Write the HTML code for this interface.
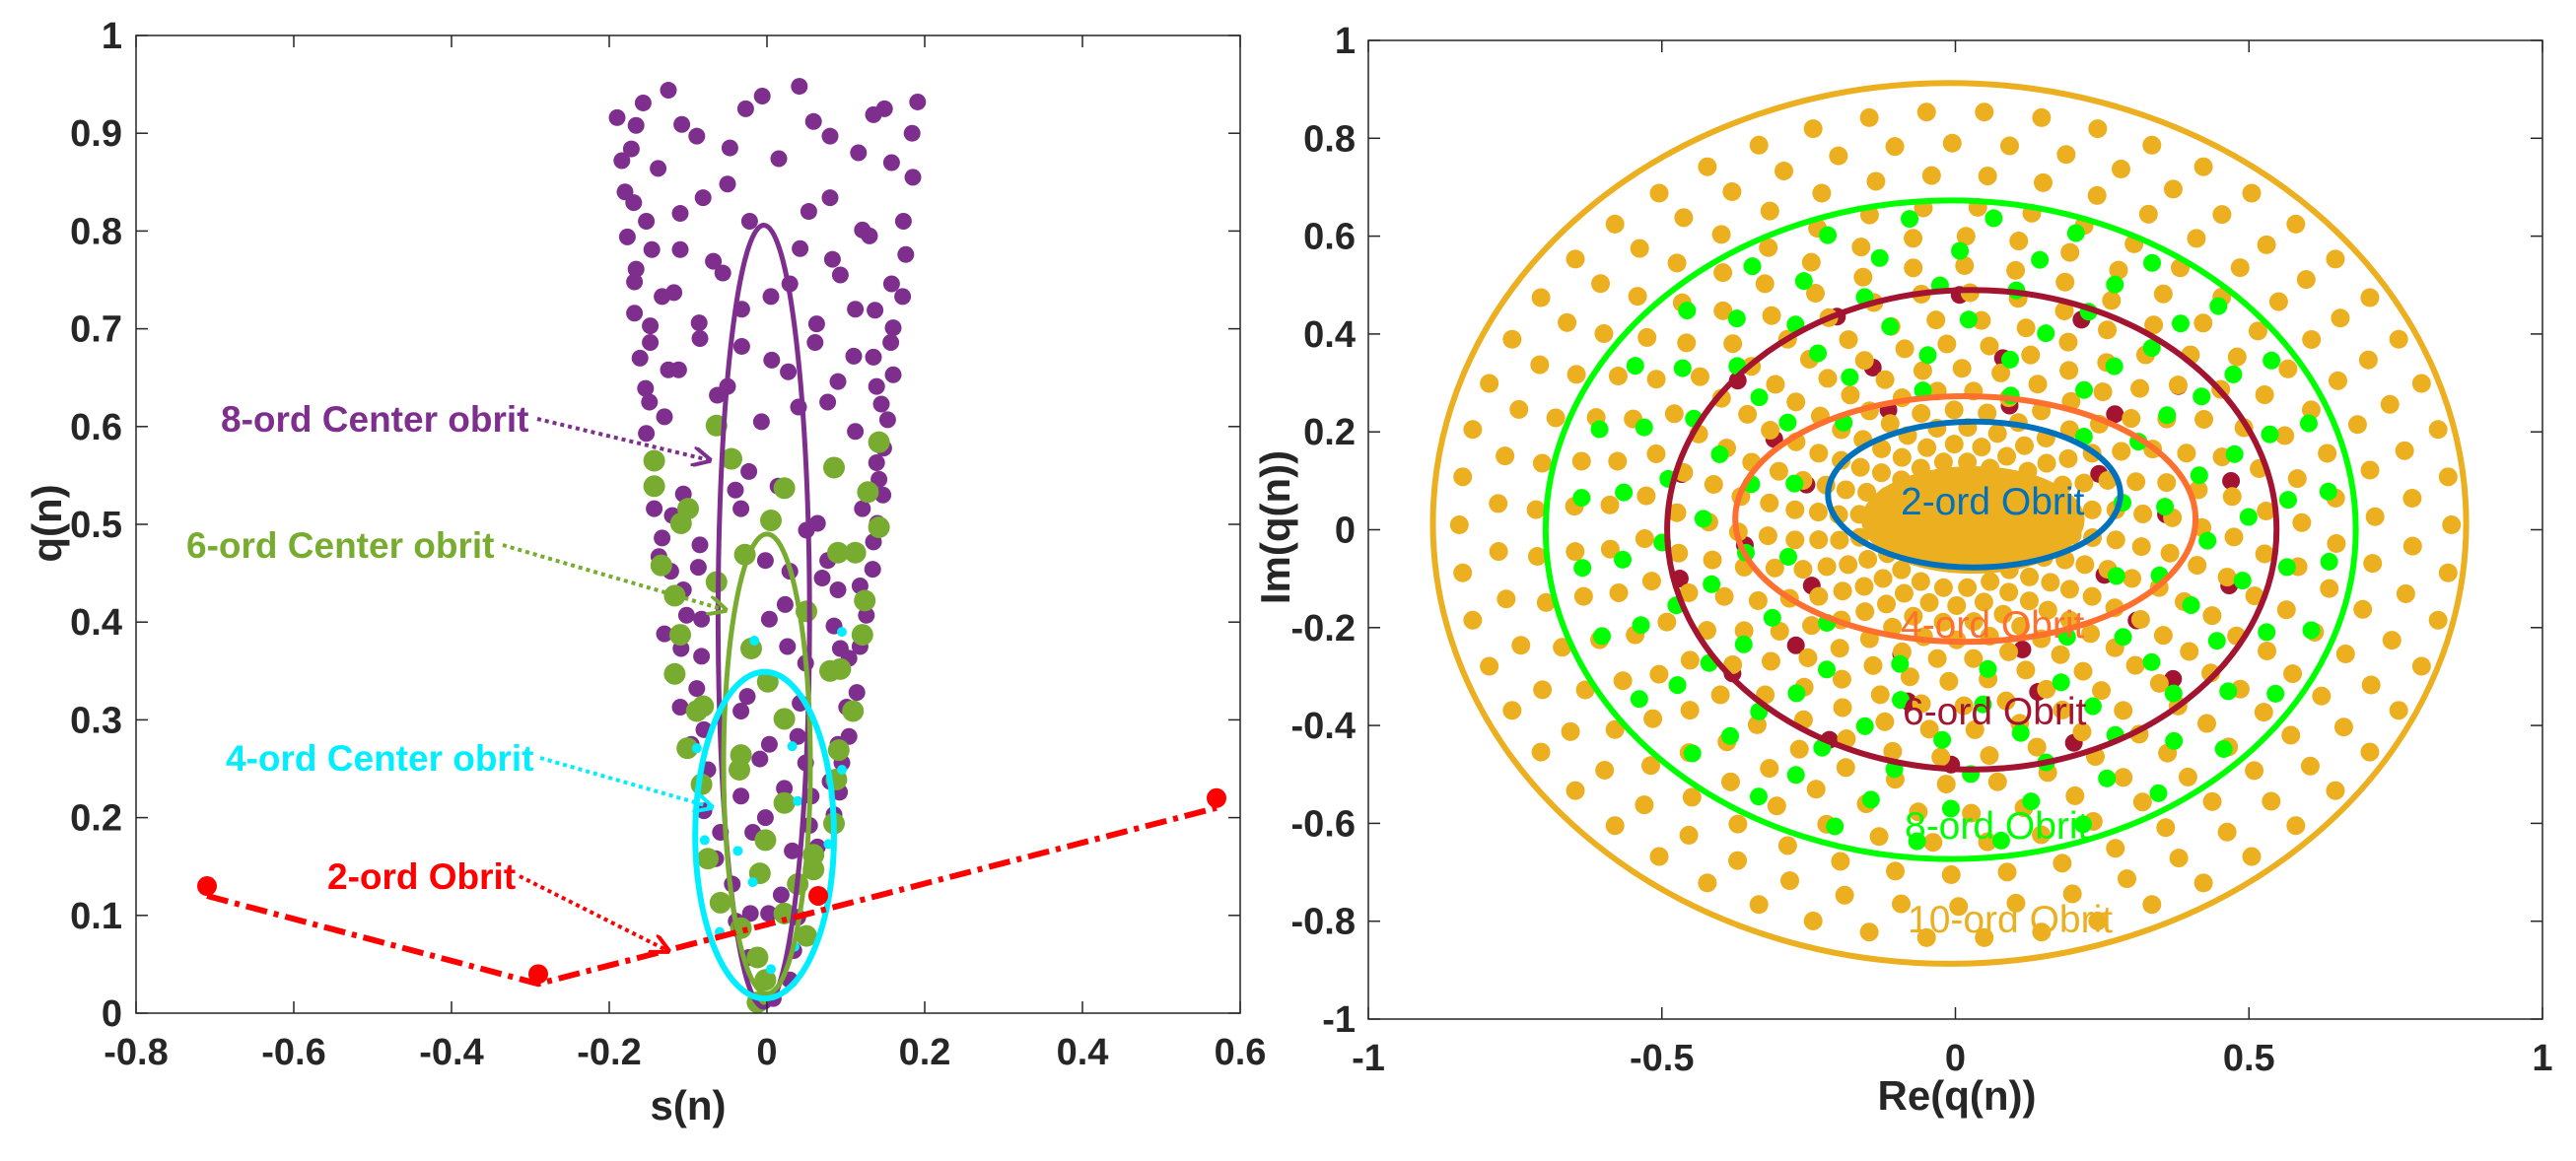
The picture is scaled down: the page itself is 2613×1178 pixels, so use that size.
<!DOCTYPE html>
<html><head><meta charset="utf-8"><style>
html,body{margin:0;padding:0;background:#fff;}
svg text{font-family:"Liberation Sans",Arial,sans-serif;}
</style></head><body>
<svg id="fig" width="2613" height="1173" viewBox="0 0 2613 1173" xmlns="http://www.w3.org/2000/svg">
<defs>
<marker id="arrP" viewBox="0 0 10 10" refX="9" refY="5" markerWidth="5" markerHeight="5" orient="auto"><path d="M0,0 L10,5 L0,10" fill="none" stroke="#7E2F8E" stroke-width="2"/></marker>
<marker id="arrG" viewBox="0 0 10 10" refX="9" refY="5" markerWidth="5" markerHeight="5" orient="auto"><path d="M0,0 L10,5 L0,10" fill="none" stroke="#77AC30" stroke-width="2"/></marker>
<marker id="arrC" viewBox="0 0 10 10" refX="9" refY="5" markerWidth="5" markerHeight="5" orient="auto"><path d="M0,0 L10,5 L0,10" fill="none" stroke="#00EEFF" stroke-width="2"/></marker>
<marker id="arrR" viewBox="0 0 10 10" refX="9" refY="5" markerWidth="5" markerHeight="5" orient="auto"><path d="M0,0 L10,5 L0,10" fill="none" stroke="#FF0000" stroke-width="2"/></marker>
<clipPath id="clipL"><rect x="138" y="36" width="1120" height="992"/></clipPath>
<clipPath id="clipR"><rect x="1388" y="41" width="1191" height="993"/></clipPath>
</defs>
<g id="left"></g>
<g id="right"></g>
</svg>
<script>
// ---------- LEFT PLOT DATA ----------
const leftXTicks=[-0.8,-0.6,-0.4,-0.2,0,0.2,0.4,0.6];
const leftXTickLabels=["-0.8","-0.6","-0.4","-0.2","0","0.2","0.4","0.6"];
const leftYTicks=[0,0.1,0.2,0.3,0.4,0.5,0.6,0.7,0.8,0.9,1];
const leftYTickLabels=["0","0.1","0.2","0.3","0.4","0.5","0.6","0.7","0.8","0.9","1"];
const purpleS=[-0.19,-0.166,-0.157,-0.125,-0.184,-0.172,-0.138,-0.108,-0.089,-0.047,-0.027,-0.006,0.041,0.015,0.059,0.08,0.116,0.135,0.149,0.191,0.184,0.158,0.185,-0.18,-0.169,-0.153,-0.177,-0.146,-0.166,-0.168,-0.133,-0.118,-0.168,-0.148,-0.148,-0.161,-0.125,-0.112,-0.154,-0.149,-0.13,-0.153,-0.11,-0.081,-0.05,-0.022,-0.11,-0.068,-0.056,-0.032,-0.032,-0.086,-0.085,0.005,0.029,0.042,0.053,0.08,0.006,0.027,-0.05,-0.063,-0.007,0.04,0.077,0.09,0.063,0.061,0.083,0.093,0.121,0.13,0.173,0.176,0.158,0.172,0.112,0.137,0.16,0.157,0.11,0.135,0.16,0.139,0.145,0.153,0.112,0.148,0.139,0.142,0.147,0.121,0.14,0.135,0.134,0.118,0.126,0.118,0.104,0.114,0.104,0.095,0.092,0.085,0.064,-0.143,-0.12,-0.133,-0.106,-0.085,-0.137,-0.122,-0.106,-0.087,-0.102,-0.083,-0.13,-0.109,-0.083,-0.089,-0.11,-0.08,-0.096,-0.075,-0.08,-0.059,-0.065,-0.044,-0.039,-0.023,-0.009,0.008,0.029,0.034,0.039,0.032,0.054,0.056,0.049,0.022,0.003,-0.009,-0.033,-0.025,-0.033,-0.018,-0.002,-0.021,0.002,0.018,0.039,0.042,0.049,0.026,0.023,0.003,0.029,-0.002,-0.033,-0.023,-0.04,0.014,0.05,0.064,0.077,0.07,0.09,0.085,0.093,0.101,0.09,0.08];
const purpleQ=[0.916,0.908,0.931,0.944,0.872,0.884,0.864,0.909,0.897,0.885,0.925,0.938,0.948,0.874,0.912,0.897,0.88,0.919,0.925,0.932,0.9,0.87,0.855,0.84,0.829,0.81,0.794,0.781,0.761,0.748,0.733,0.737,0.716,0.703,0.686,0.67,0.658,0.658,0.639,0.625,0.61,0.593,0.818,0.834,0.848,0.81,0.781,0.769,0.757,0.72,0.682,0.706,0.69,0.733,0.746,0.782,0.82,0.834,0.668,0.656,0.641,0.632,0.605,0.62,0.625,0.646,0.705,0.686,0.771,0.755,0.801,0.795,0.81,0.776,0.746,0.733,0.72,0.719,0.701,0.686,0.672,0.671,0.653,0.641,0.623,0.607,0.595,0.578,0.563,0.546,0.53,0.516,0.501,0.482,0.454,0.437,0.407,0.375,0.363,0.328,0.283,0.256,0.226,0.203,0.17,0.516,0.509,0.486,0.531,0.479,0.467,0.452,0.433,0.456,0.407,0.403,0.388,0.373,0.365,0.332,0.313,0.29,0.275,0.249,0.207,0.185,0.158,0.132,0.094,0.057,0.011,0.015,0.034,0.064,0.098,0.166,0.192,0.222,0.256,0.23,0.275,0.26,0.309,0.324,0.222,0.185,0.2,0.102,0.102,0.121,0.283,0.317,0.358,0.375,0.418,0.403,0.452,0.463,0.516,0.554,0.535,0.539,0.494,0.501,0.463,0.445,0.433,0.396,0.373,0.313,0.275,0.237];
const greenS=[-0.143,-0.143,-0.1,-0.109,-0.064,-0.045,0.022,0.005,-0.028,-0.134,-0.117,-0.064,0.05,0.085,0.142,0.128,0.142,0.09,0.112,0.124,0.121,-0.11,-0.117,-0.081,-0.089,-0.02,0.001,0.022,0.08,0.093,0.109,0.091,0.088,0.085,0.059,0.059,0.05,0.022,0.022,-0.002,-0.009,-0.033,-0.035,-0.101,-0.083,-0.075,-0.059,-0.033,-0.012,-0.012,-0.002,0.039];
const greenQ=[0.565,0.539,0.516,0.501,0.601,0.567,0.537,0.504,0.469,0.458,0.427,0.441,0.411,0.558,0.584,0.533,0.497,0.471,0.471,0.422,0.387,0.387,0.347,0.314,0.309,0.373,0.339,0.301,0.35,0.352,0.309,0.269,0.239,0.194,0.162,0.147,0.079,0.102,0.215,0.177,0.143,0.264,0.249,0.271,0.234,0.158,0.113,0.087,0.057,0.011,0.034,0.132];
const cyanS=[-0.016,-0.089,0.032,0.095,0.095,-0.079,-0.037,-0.018,0.039,0.078,0.005,0.035,-0.06];
const cyanQ=[0.381,0.271,0.273,0.39,0.249,0.177,0.166,0.134,0.217,0.173,0.045,0.068,0.083];
const redLineS=[-0.71,-0.29,0.57];
const redLineQ=[0.12,0.03,0.21];
const redDotS=[-0.71,-0.29,0.065,0.57];
const redDotQ=[0.13,0.04,0.12,0.22];
const orbit8=[-0.004,0.406,0.058,0.4];
const orbit6=[0.0,0.255,0.055,0.235];
const orbit4=[-0.003,0.182,0.088,0.167];

// ---------- RIGHT PLOT DATA ----------
const rightXTicks=[-1,-0.5,0,0.5,1];
const rightXTickLabels=["-1","-0.5","0","0.5","1"];
const rightYTicks=[-1,-0.8,-0.6,-0.4,-0.2,0,0.2,0.4,0.6,0.8,1];
const rightYTickLabels=["-1","-0.8","-0.6","-0.4","-0.2","0","0.2","0.4","0.6","0.8","1"];
const orangeRingR=[0.845,0.78,0.715,0.65,0.59,0.53,0.475,0.42,0.37,0.32,0.275,0.235,0.2,0.165,0.13];
const orangeRingN=[54,50,47,44,41,38,36,34,32,30,28,26,24,22,20];
const orangeRingPhase=[0,4,9,13,18,22,27,31,36,40,45,49,54,58,63];
const greenRingR=[0.64,0.57,0.50,0.43,0.36,0.29];
const greenRingN=[28,26,24,20,16,12];
const greenRingPhase=[7,20,3,15,30,11];
const redRingR=[0.48,0.36,0.27];
const redRingN=[14,10,8];
const redRingPhase=[12,5,25];
const orbitR10=[-0.01,0.013,0.88,0.90];
const orbitR8=[-0.008,0.0,0.69,0.673];
const orbitR6=[0.028,0.0,0.519,0.49];
const orbitR4=[0.017,0.022,0.392,0.251];
const orbitR2=[0.032,0.072,0.249,0.149];
const centerBlob=[0.03,0.02,0.19,0.11];

const NS='http://www.w3.org/2000/svg';
function mk(parent,tag,attrs){const e=document.createElementNS(NS,tag);for(const k in attrs)e.setAttribute(k,attrs[k]);parent.appendChild(e);return e;}
function lx(v){return 138+(v+0.8)*800;}
function ly(v){return 1028-v*992;}
function rx(v){return 1388+(v+1)*595.5;}
function ry(v){return 537.5-v*496.5;}

const L=document.getElementById('left');
const R=document.getElementById('right');

const LD=mk(L,'g',{'clip-path':'url(#clipL)'});


for(let i=0;i<purpleS.length;i++){
  const c=mk(LD,'circle',{cx:lx(purpleS[i]),cy:ly(purpleQ[i]),r:8.5,fill:'#7E2F8E'});
  
  
}
for(let i=0;i<greenS.length;i++){
  const c=mk(LD,'circle',{cx:lx(greenS[i]),cy:ly(greenQ[i]),r:11,fill:'#77AC30'});
  
  
}
for(let i=0;i<cyanS.length;i++){
  const c=mk(LD,'circle',{cx:lx(cyanS[i]),cy:ly(cyanQ[i]),r:5,fill:'#00EEFF'});
  
  
}
function lEll(p,color,w){return mk(LD,'ellipse',{cx:lx(p[0]),cy:ly(p[1]),rx:p[2]*800,ry:p[3]*992,fill:'none',stroke:color,'stroke-width':w});}
let e8=lEll(orbit8,'#7E2F8E',5);


let e6=lEll(orbit6,'#77AC30',5);


let e4=lEll(orbit4,'#00EEFF',6);


let pts=redLineS.map((s,i)=>lx(s)+','+ly(redLineQ[i])).join(' ');
const rl=mk(LD,'polyline',{points:pts,fill:'none',stroke:'#FF0000','stroke-width':6,'stroke-dasharray':'22 7 5 7'});


for(let i=0;i<redDotS.length;i++){
  const c=mk(LD,'circle',{cx:lx(redDotS[i]),cy:ly(redDotQ[i]),r:10,fill:'#FF0000'});
  
  
}
const lb=mk(L,'rect',{x:138,y:36,width:1120,height:992,fill:'none',stroke:'#262626','stroke-width':1.5});


leftXTicks.forEach((v,i)=>{
  const X=lx(v);
  mk(L,'line',{x1:X,y1:1028,x2:X,y2:1016,stroke:'#262626','stroke-width':1.5});
  mk(L,'line',{x1:X,y1:36,x2:X,y2:48,stroke:'#262626','stroke-width':1.5});
  const t=mk(L,'text',{x:X,y:1080,'text-anchor':'middle','font-size':38,'font-weight':'bold',fill:'#262626'});
  t.textContent=leftXTickLabels[i];
  
  
});
leftYTicks.forEach((v,i)=>{
  const Y=ly(v);
  mk(L,'line',{x1:138,y1:Y,x2:150,y2:Y,stroke:'#262626','stroke-width':1.5});
  mk(L,'line',{x1:1258,y1:Y,x2:1246,y2:Y,stroke:'#262626','stroke-width':1.5});
  const t=mk(L,'text',{x:124,y:Y+13,'text-anchor':'end','font-size':38,'font-weight':'bold',fill:'#262626'});
  t.textContent=leftYTickLabels[i];
  
  
});

const RD=mk(R,'g',{'clip-path':'url(#clipR)'});


for(let k=0;k<redRingR.length;k++){
  for(let j=0;j<redRingN[k];j++){
    const a=(redRingPhase[k]+j*360/redRingN[k])*Math.PI/180;
    const c=mk(RD,'circle',{cx:rx(redRingR[k]*Math.cos(a)),cy:ry(redRingR[k]*Math.sin(a)),r:9,fill:'#A2142F'});
    
    
  }
}
for(let k=0;k<orangeRingR.length;k++){
  for(let j=0;j<orangeRingN[k];j++){
    const a=(orangeRingPhase[k]+j*360/orangeRingN[k])*Math.PI/180;
    const c=mk(RD,'circle',{cx:rx(orangeRingR[k]*Math.cos(a)),cy:ry(0.01+orangeRingR[k]*Math.sin(a)),r:9.5,fill:'#EBAF20'});
    
    
  }
}
const blob=mk(RD,'ellipse',{cx:rx(centerBlob[0]),cy:ry(centerBlob[1]),rx:centerBlob[2]*595.5,ry:centerBlob[3]*496.5,fill:'#EBAF20'});


for(let k=0;k<greenRingR.length;k++){
  for(let j=0;j<greenRingN[k];j++){
    const a=(greenRingPhase[k]+j*360/greenRingN[k])*Math.PI/180;
    const c=mk(RD,'circle',{cx:rx(greenRingR[k]*Math.cos(a)),cy:ry(greenRingR[k]*Math.sin(a)),r:9,fill:'#00FF00'});
    
    
  }
}
function rEll(p,color){return mk(RD,'ellipse',{cx:rx(p[0]),cy:ry(p[1]),rx:p[2]*595.5,ry:p[3]*496.5,fill:'none',stroke:color,'stroke-width':6});}
let o10=rEll(orbitR10,'#EBAF20');


let o8=rEll(orbitR8,'#00FF00');


let o6=rEll(orbitR6,'#A2142F');


let o4=rEll(orbitR4,'#FF6F2E');


let o2=rEll(orbitR2,'#0072BD');


const rb=mk(R,'rect',{x:1388,y:41,width:1191,height:993,fill:'none',stroke:'#262626','stroke-width':1.5});


rightXTicks.forEach((v,i)=>{
  const X=rx(v);
  mk(R,'line',{x1:X,y1:1034,x2:X,y2:1022,stroke:'#262626','stroke-width':1.5});
  mk(R,'line',{x1:X,y1:41,x2:X,y2:53,stroke:'#262626','stroke-width':1.5});
  const t=mk(R,'text',{x:X,y:1086,'text-anchor':'middle','font-size':38,'font-weight':'bold',fill:'#262626'});
  t.textContent=rightXTickLabels[i];
  
  
});
rightYTicks.forEach((v,i)=>{
  const Y=ry(v);
  mk(R,'line',{x1:1388,y1:Y,x2:1400,y2:Y,stroke:'#262626','stroke-width':1.5});
  mk(R,'line',{x1:2579,y1:Y,x2:2567,y2:Y,stroke:'#262626','stroke-width':1.5});
  const t=mk(R,'text',{x:1375,y:Y+13,'text-anchor':'end','font-size':38,'font-weight':'bold',fill:'#262626'});
  t.textContent=rightYTickLabels[i];
  
  
});
</script>
<svg style="position:absolute;left:0;top:0" width="2613" height="1173" viewBox="0 0 2613 1173">
<g font-family="Liberation Sans, Arial, sans-serif">
<text x="698" y="1136" text-anchor="middle" font-size="42" font-weight="bold" fill="#262626">s(n)</text>
<text transform="translate(62,531) rotate(-90)" text-anchor="middle" font-size="42" font-weight="bold" fill="#262626">q(n)</text>
<text x="1985" y="1126" text-anchor="middle" font-size="42" font-weight="bold" fill="#262626">Re(q(n))</text>
<text transform="translate(1308,535) rotate(-90)" text-anchor="middle" font-size="42" font-weight="bold" fill="#262626">Im(q(n))</text>

<text x="224" y="438" font-size="37" font-weight="bold" fill="#7E2F8E">8-ord Center obrit</text>
<line x1="545" y1="425" x2="720" y2="467" stroke="#7E2F8E" stroke-width="4" stroke-dasharray="4 4" marker-end="url(#arrP)"/>
<text x="189" y="566" font-size="37" font-weight="bold" fill="#77AC30">6-ord Center obrit</text>
<line x1="510" y1="553" x2="736" y2="619" stroke="#77AC30" stroke-width="4" stroke-dasharray="4 4" marker-end="url(#arrG)"/>
<text x="229" y="782" font-size="37" font-weight="bold" fill="#00EEFF">4-ord Center obrit</text>
<line x1="548" y1="769" x2="722" y2="819" stroke="#00EEFF" stroke-width="4" stroke-dasharray="4 4" marker-end="url(#arrC)"/>
<text x="332" y="902" font-size="37" font-weight="bold" fill="#FF0000">2-ord Obrit</text>
<line x1="527" y1="889" x2="678" y2="965" stroke="#FF0000" stroke-width="4" stroke-dasharray="4 4" marker-end="url(#arrR)"/>

<text x="1928" y="522" font-size="39" fill="#0072BD">2-ord Obrit</text>
<text x="1928" y="647" font-size="39" fill="#FF6F2E">4-ord Obrit</text>
<text x="1930" y="735" font-size="39" fill="#A2142F">6-ord Obrit</text>
<text x="1932" y="851" font-size="39" fill="#00FF00">8-ord Obrit</text>
<text x="1935" y="946" font-size="39" fill="#EBAF20">10-ord Obrit</text>
</g>
</svg>
</body></html>
